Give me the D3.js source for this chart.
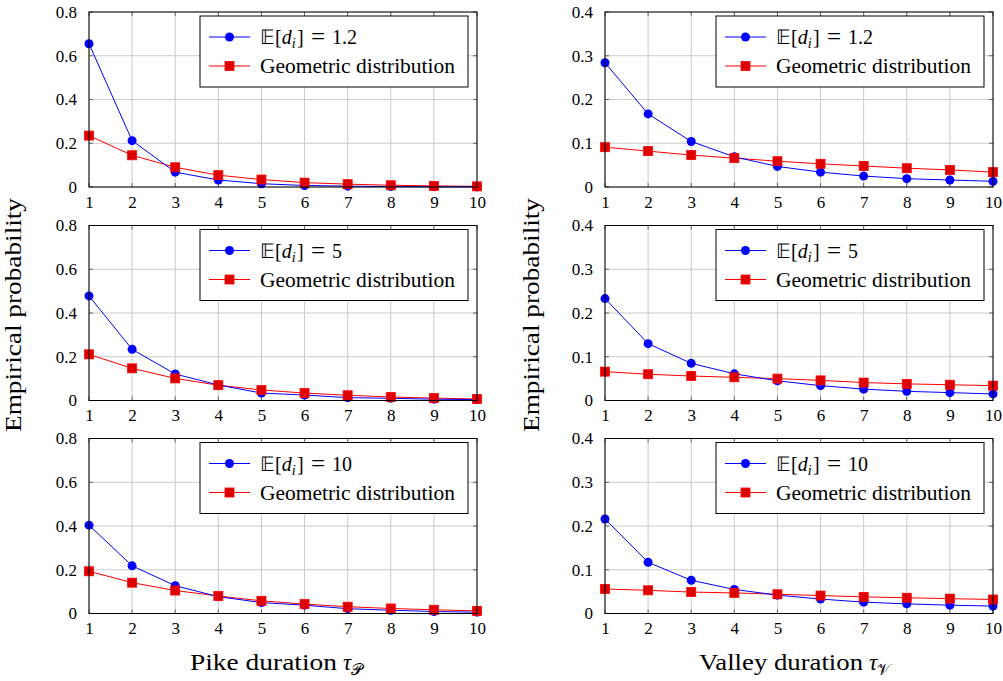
<!DOCTYPE html>
<html>
<head>
<meta charset="utf-8">
<script src="https://cdn.jsdelivr.net/npm/d3@7"></script>
<style>
  body { margin: 0; background: #fff; }
  text { font-family: "Liberation Serif", "Times New Roman", serif; fill: #000; }
</style>
</head>
<body>
<div id="chart"></div>
<script>
// durations on the x axis
var durations = [1, 2, 3, 4, 5, 6, 7, 8, 9, 10];
var meanLabels = ["1.2", "5", "10"];

// pike duration, empirical vs geometric
var pikeEmp12 = [0.655, 0.212, 0.068, 0.032, 0.015, 0.007, 0.004, 0.002, 0.001, 0.0005];
var pikeGeo12 = [0.235, 0.145, 0.090, 0.054, 0.034, 0.020, 0.013, 0.008, 0.005, 0.003];
var pikeEmp5  = [0.478, 0.234, 0.121, 0.071, 0.034, 0.025, 0.013, 0.010, 0.006, 0.004];
var pikeGeo5  = [0.211, 0.147, 0.101, 0.070, 0.048, 0.034, 0.024, 0.016, 0.011, 0.007];
var pikeEmp10 = [0.404, 0.218, 0.127, 0.077, 0.050, 0.038, 0.022, 0.015, 0.009, 0.006];
var pikeGeo10 = [0.193, 0.141, 0.105, 0.080, 0.058, 0.043, 0.031, 0.023, 0.017, 0.012];

// valley duration, empirical vs geometric
var valleyEmp12 = [0.284, 0.167, 0.104, 0.069, 0.047, 0.034, 0.025, 0.019, 0.016, 0.013];
var valleyGeo12 = [0.091, 0.082, 0.073, 0.066, 0.059, 0.053, 0.048, 0.043, 0.039, 0.034];
var valleyEmp5  = [0.233, 0.130, 0.085, 0.061, 0.045, 0.034, 0.026, 0.021, 0.018, 0.015];
var valleyGeo5  = [0.066, 0.060, 0.056, 0.053, 0.050, 0.046, 0.041, 0.038, 0.036, 0.034];
var valleyEmp10 = [0.216, 0.117, 0.076, 0.055, 0.042, 0.033, 0.026, 0.022, 0.019, 0.017];
var valleyGeo10 = [0.056, 0.053, 0.049, 0.047, 0.044, 0.041, 0.038, 0.036, 0.034, 0.032];

var pikeTicks = [0, 0.2, 0.4, 0.6, 0.8];
var valleyTicks = [0, 0.1, 0.2, 0.3, 0.4];

var svgWidth = 1003, svgHeight = 681;
var svg = d3.select("#chart").append("svg")
  .attr("width", svgWidth)
  .attr("height", svgHeight);

var cols = [
  {x0: 89, x1: 477, yMax: 0.8, ticks: pikeTicks, emp: [pikeEmp12, pikeEmp5, pikeEmp10], geo: [pikeGeo12, pikeGeo5, pikeGeo10]},
  {x0: 605, x1: 993, yMax: 0.4, ticks: valleyTicks, emp: [valleyEmp12, valleyEmp5, valleyEmp10], geo: [valleyGeo12, valleyGeo5, valleyGeo10]}
];
var rowTops = [12, 225.5, 438.5];
var panelH = 175;

cols.forEach(function(col) {
  rowTops.forEach(function(top, r) {
    var x = d3.scaleLinear().domain([1, 10]).range([col.x0, col.x1]);
    var y = d3.scaleLinear().domain([0, col.yMax]).range([top + panelH, top]);
    var g = svg.append("g");

    // grid
    g.selectAll(".vgrid").data(durations).enter().append("line")
      .attr("x1", function(d) { return x(d); }).attr("x2", function(d) { return x(d); })
      .attr("y1", top).attr("y2", top + panelH)
      .attr("stroke", "#cbcbcb").attr("stroke-width", 1);
    g.selectAll(".hgrid").data(col.ticks).enter().append("line")
      .attr("x1", col.x0).attr("x2", col.x1)
      .attr("y1", function(d) { return y(d); }).attr("y2", function(d) { return y(d); })
      .attr("stroke", "#cbcbcb").attr("stroke-width", 1);

    // inward ticks
    var t = 4;
    durations.forEach(function(d) {
      g.append("line").attr("x1", x(d)).attr("x2", x(d)).attr("y1", top + panelH).attr("y2", top + panelH - t).attr("stroke", "#666");
      g.append("line").attr("x1", x(d)).attr("x2", x(d)).attr("y1", top).attr("y2", top + t).attr("stroke", "#666");
    });
    col.ticks.forEach(function(d) {
      g.append("line").attr("x1", col.x0).attr("x2", col.x0 + t).attr("y1", y(d)).attr("y2", y(d)).attr("stroke", "#666");
      g.append("line").attr("x1", col.x1).attr("x2", col.x1 - t).attr("y1", y(d)).attr("y2", y(d)).attr("stroke", "#666");
    });

    // tick labels via d3 axes
    g.append("g")
      .attr("transform", "translate(0," + (top + panelH) + ")")
      .call(d3.axisBottom(x).tickValues(durations).tickSize(0).tickPadding(8.5).tickFormat(d3.format("d")))
      .call(function(a) { a.select(".domain").remove(); })
      .selectAll("text").style("font-size", "17px").style("font-family", "Liberation Serif");
    g.append("g")
      .attr("transform", "translate(" + col.x0 + ",0)")
      .call(d3.axisLeft(y).tickValues(col.ticks).tickSize(0).tickPadding(12).tickFormat(function(d) { return d === 0 ? "0" : d3.format(".1f")(d); }))
      .call(function(a) { a.select(".domain").remove(); })
      .selectAll("text").style("font-size", "17px").style("font-family", "Liberation Serif");

    // series
    var line = d3.line().x(function(d, i) { return x(durations[i]); }).y(function(d) { return y(d); });
    g.append("path").datum(col.geo[r]).attr("d", line).attr("fill", "none").attr("stroke", "#ff0000").attr("stroke-width", 1);
    g.append("path").datum(col.emp[r]).attr("d", line).attr("fill", "none").attr("stroke", "#0000ff").attr("stroke-width", 1);
    g.selectAll(".emp").data(col.emp[r]).enter().append("circle")
      .attr("cx", function(d, i) { return x(durations[i]); })
      .attr("cy", function(d) { return y(d); })
      .attr("r", 4.5).attr("fill", "#0000ff");
    g.selectAll(".geo").data(col.geo[r]).enter().append("rect")
      .attr("x", function(d, i) { return x(durations[i]) - 4.5; })
      .attr("y", function(d) { return y(d) - 4.5; })
      .attr("width", 9).attr("height", 9)
      .attr("fill", "#dd0000").attr("stroke", "#ff0000").attr("stroke-width", 0.8);

    // frame
    g.append("rect").attr("x", col.x0).attr("y", top).attr("width", col.x1 - col.x0).attr("height", panelH)
      .attr("fill", "none").attr("stroke", "#000").attr("stroke-width", 1);

    // legend
    var lx = col.x1 - 9 - 268, ly = top + 4;
    var lg = g.append("g");
    lg.append("rect").attr("x", lx).attr("y", ly).attr("width", 268).attr("height", 71)
      .attr("fill", "#fff").attr("stroke", "#000").attr("stroke-width", 1);
    var r1 = ly + 21, r2 = ly + 50;
    lg.append("line").attr("x1", lx + 9).attr("x2", lx + 50).attr("y1", r1).attr("y2", r1).attr("stroke", "#0000ff");
    lg.append("circle").attr("cx", lx + 29.5).attr("cy", r1).attr("r", 4.5).attr("fill", "#0000ff");
    lg.append("line").attr("x1", lx + 9).attr("x2", lx + 50).attr("y1", r2).attr("y2", r2).attr("stroke", "#ff0000");
    lg.append("rect").attr("x", lx + 25).attr("y", r2 - 4.5).attr("width", 9).attr("height", 9)
      .attr("fill", "#dd0000").attr("stroke", "#ff0000").attr("stroke-width", 0.8);
    var t1 = lg.append("text").attr("x", lx + 60).attr("y", r1 + 7).style("font-size", "20px");
    t1.append("tspan").text("\uD835\uDD3C[");
    t1.append("tspan").style("font-style", "italic").text("d");
    t1.append("tspan").style("font-style", "italic").style("font-size", "14px").attr("dy", 4).text("i");
    t1.append("tspan").attr("dy", -4).attr("x", lx + 97).text("]");
    t1.append("tspan").attr("x", lx + 111).style("font-size", "25px").attr("dy", 1).text("=");
    t1.append("tspan").attr("x", lx + 132).attr("dy", -1).text(meanLabels[r]);
    lg.append("text").attr("x", lx + 60).attr("y", r2 + 7).style("font-size", "20px")
      .attr("textLength", 195).attr("lengthAdjust", "spacingAndGlyphs")
      .text("Geometric distribution");
  });
});

// axis titles
[21, 539].forEach(function(cx) {
  svg.append("text")
    .attr("transform", "translate(" + cx + ",315) rotate(-90)")
    .attr("text-anchor", "middle")
    .style("font-size", "24px")
    .attr("textLength", 234).attr("lengthAdjust", "spacingAndGlyphs")
    .text("Empirical probability");
});

var xTitles = [
  {x: 190, w: 147, label: "Pike duration", sub: "\uD835\uDCAB"},
  {x: 699, w: 164, label: "Valley duration", sub: "\uD835\uDCB1"}
];
xTitles.forEach(function(d) {
  var tx = svg.append("text").attr("y", 670).style("font-size", "23px");
  tx.append("tspan").attr("x", d.x).attr("textLength", d.w).attr("lengthAdjust", "spacingAndGlyphs").text(d.label);
  tx.append("tspan").attr("x", d.x + d.w + 6).style("font-style", "italic").text("\u03C4");
  tx.append("tspan").style("font-size", "16px").attr("dy", 5).text(d.sub);
});
</script>
</body>
</html>
